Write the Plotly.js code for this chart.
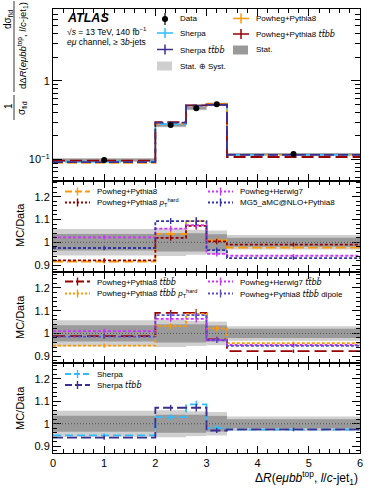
<!DOCTYPE html>
<html>
<head>
<meta charset="utf-8">
<script src="https://cdn.plot.ly/plotly-3.0.1.min.js"></script>
<style>
html, body { margin: 0; padding: 0; background: #fff; }
#plot { width: 374px; height: 490px; }
</style>
</head>
<body>
<div id="plot"></div>
<script>
// bins of dR(emu bb^top, l/c-jet1)
var edges = [0, 2, 2.6, 3, 3.4, 6];
var centres = [1, 2.3, 2.8, 3.2, 4.7];
var widths = [2, 0.6, 0.4, 0.4, 2.6];

// normalised data and relative uncertainties
var dataXs = [0.099, 0.275, 0.450, 0.505, 0.118];
var relTot = [0.058, 0.060, 0.055, 0.052, 0.032];
var relStat = [0.036, 0.040, 0.040, 0.035, 0.020];

// predictions in the top panel
var xsSherpa = [0.094, 0.283, 0.490, 0.500, 0.115];
var xsSherpaTtbb = [0.093, 0.295, 0.485, 0.495, 0.115];
var xsPP8 = [0.091, 0.285, 0.490, 0.510, 0.115];
var xsPP8Ttbb = [0.097, 0.300, 0.490, 0.500, 0.108];

// MC/Data ratios
var rPP8 = [0.916, 1.037, 1.093, 1.008, 0.977];
var rPP8Pthard = [0.921, 1.019, 1.072, 1.004, 0.990];
var rPH7 = [1.022, 1.060, 1.075, 0.949, 0.941];
var rMG5 = [0.975, 1.093, 1.093, 0.966, 0.931];
var rPP8Ttbb = [0.988, 1.090, 1.090, 0.974, 0.922];
var rPP8TtbbPthard = [0.946, 1.032, 1.086, 1.022, 0.957];
var rPH7Ttbb = [1.010, 1.064, 1.064, 0.971, 0.949];
var rPP8TtbbDipole = [0.986, 1.080, 1.080, 0.970, 0.945];
var rSherpa = [0.948, 1.029, 1.086, 0.981, 0.974];
var rSherpaTtbb = [0.938, 1.071, 1.071, 0.970, 0.975];
var mcErr = [0.010, 0.012, 0.015, 0.012, 0.008];

var FONT = 'Liberation Sans, Arial, sans-serif';
var TTBB = '<span style="font-family:DejaVu Sans"><i>tt\u0304bb\u0304</i></span>';

var col = {
  orange: '#ff9900', red: '#990000', sky: '#33bbff', indigo: '#3d2f91',
  magenta: '#cc33ff', mg5: '#3333aa', dipole: '#5b4dc4'
};

function step(v) { return v.concat([v[v.length - 1]]); }

var traces = [];

function bands(ya, centre) {
  [[relTot, '#cfcfcf'], [relStat, '#9a9a9a']].forEach(function (b) {
    traces.push({
      type: 'bar', x: centres, width: widths, yaxis: ya, xaxis: ya.replace('y', 'x'),
      base: centre.map(function (c, i) { return c * (1 - b[0][i]); }),
      y: centre.map(function (c, i) { return c * 2 * b[0][i]; }),
      marker: {color: b[1], line: {width: 0}}, hoverinfo: 'skip', showlegend: false
    });
  });
}

function model(ya, vals, color, dash) {
  var xa = ya.replace('y', 'x');
  traces.push({
    type: 'scatter', mode: 'lines', x: edges, y: step(vals), xaxis: xa, yaxis: ya,
    line: {shape: 'hv', color: color, width: 1.8, dash: dash}, showlegend: false, hoverinfo: 'skip'
  });
  traces.push({
    type: 'scatter', mode: 'markers', x: centres, y: vals, xaxis: xa, yaxis: ya,
    marker: {size: 1, color: color, opacity: 0},
    error_y: {type: 'data', array: mcErr.map(function (e, i) { return e * vals[i]; }),
              color: color, thickness: 1.4, width: 0},
    showlegend: false, hoverinfo: 'skip'
  });
}

// top panel
bands('y', dataXs);
model('y', xsPP8, col.orange, '10px,4px');
model('y', xsSherpa, col.sky, '8px,4px');
model('y', xsPP8Ttbb, col.red, '12px,5px');
model('y', xsSherpaTtbb, col.indigo, '10px,4px');
traces.push({
  type: 'scatter', mode: 'markers', x: centres, y: dataXs, xaxis: 'x', yaxis: 'y',
  marker: {size: 6, color: '#000'},
  error_y: {type: 'data', array: dataXs.map(function (d, i) { return d * relTot[i]; }),
            color: '#000', thickness: 1.2, width: 0},
  showlegend: false, hoverinfo: 'skip'
});

var ones = dataXs.map(function () { return 1; });

// ratio panel 1
bands('y2', ones);
model('y2', rPP8, col.orange, '10px,4px');
model('y2', rPP8Pthard, col.red, '3px,2px');
model('y2', rPH7, col.magenta, '3px,2px');
model('y2', rMG5, col.mg5, '3px,2px');

// ratio panel 2
bands('y3', ones);
model('y3', rPP8Ttbb, col.red, '12px,5px');
model('y3', rPP8TtbbPthard, col.orange, '3px,2px');
model('y3', rPH7Ttbb, col.magenta, '3px,2px');
model('y3', rPP8TtbbDipole, col.dipole, '3px,2px');

// ratio panel 3
bands('y4', ones);
model('y4', rSherpa, col.sky, '8px,4px');
model('y4', rSherpaTtbb, col.indigo, '10px,4px');

// pixel -> paper helpers (plot area 53..360 x 9..453)
function px(x) { return (x - 53) / 307; }
function py(y) { return (453 - y) / 444; }

var shapes = [];
var annotations = [];

function text(x, y, t, size, opts) {
  var a = {xref: 'paper', yref: 'paper', x: px(x), y: py(y), text: t, showarrow: false,
           xanchor: 'left', yanchor: 'middle', font: {family: FONT, size: size, color: '#000'}};
  for (var k in (opts || {})) a[k] = opts[k];
  annotations.push(a);
}
function seg(x0, y0, x1, y1, color, width, dash) {
  shapes.push({type: 'line', xref: 'paper', yref: 'paper', x0: px(x0), x1: px(x1), y0: py(y0), y1: py(y1),
               line: {color: color, width: width, dash: dash || 'solid'}});
}
function legCross(x0, y, label, color) {
  seg(x0, y, x0 + 16, y, color, 1.5);
  seg(x0 + 8, y - 5, x0 + 8, y + 5, color, 1.5);
  text(x0 + 21, y, label, 8);
}
function legBox(x0, y, label, color) {
  shapes.push({type: 'rect', xref: 'paper', yref: 'paper', x0: px(x0), x1: px(x0 + 15),
               y0: py(y - 4.5), y1: py(y + 4.5), fillcolor: color, line: {width: 0}});
  text(x0 + 21, y, label, 8);
}
function legDash(x0, y, label, color, dash) {
  seg(x0, y, x0 + 25, y, color, 1.8, dash);
  seg(x0 + 12.5, y - 4, x0 + 12.5, y + 4, color, 1.4);
  text(x0 + 30, y, label, 8);
}

// top legend
seg(165, 13, 165, 25, '#000', 1.2);
shapes.push({type: 'circle', xref: 'paper', yref: 'paper', x0: px(162), x1: px(168), y0: py(16), y1: py(22),
             fillcolor: '#000', line: {width: 0}});
text(178, 19, 'Data', 8);
legCross(157, 33, 'Sherpa', col.sky);
legCross(157, 49.5, 'Sherpa ' + TTBB, col.indigo);
legBox(157, 66, 'Stat. \u2295 Syst.', '#cfcfcf');
legCross(233, 18.5, 'Powheg+Pythia8', col.orange);
legCross(233, 34, 'Powheg+Pythia8 ' + TTBB, col.red);
legBox(233, 50, 'Stat.', '#9a9a9a');

text(65, 18, '<b><i>ATLAS</i></b>', 12.5);
text(65, 31, '\u221A<i>s</i> = 13 TeV, 140 fb<sup>\u22121</sup>', 8.5);
text(65, 42, '<i>e\u03BC</i> channel, \u2265 3<i>b</i>-jets', 8.5);

// ratio legends
legDash(65, 191.5, 'Powheg+Pythia8', col.orange, '7px,3px');
legDash(65, 202.5, 'Powheg+Pythia8 <i>p</i><sub>T</sub><sup>hard</sup>', col.red, '2px,2px');
legDash(208, 191.5, 'Powheg+Herwig7', col.magenta, '2px,2px');
legDash(208, 202.5, 'MG5_aMC@NLO+Pythia8', col.mg5, '2px,2px');

legDash(65, 281.5, 'Powheg+Pythia8 ' + TTBB, col.red, '8px,3px');
legDash(65, 293.5, 'Powheg+Pythia8 ' + TTBB + ' <i>p</i><sub>T</sub><sup>hard</sup>', col.orange, '2px,2px');
legDash(208, 281.5, 'Powheg+Herwig7 ' + TTBB, col.magenta, '2px,2px');
legDash(208, 293.5, 'Powheg+Pythia8 ' + TTBB + ' dipole', col.dipole, '2px,2px');

legDash(65, 374, 'Sherpa', col.sky, '6px,3px');
legDash(65, 385, 'Sherpa ' + TTBB, col.indigo, '7px,3px');

// dotted unity lines
['y2', 'y3', 'y4'].forEach(function (ya) {
  shapes.push({type: 'line', xref: ya.replace('y', 'x') + ' domain', yref: ya, x0: 0, x1: 1, y0: 1, y1: 1,
               line: {color: '#555', width: 1, dash: '1px,2px'}, layer: 'above'});
});

// y titles
var rot = {textangle: -90, xanchor: 'center', yanchor: 'middle'};
text(20, 225, 'MC/Data', 11, rot);
text(20, 317, 'MC/Data', 11, rot);
text(20, 408, 'MC/Data', 11, rot);
text(8, 106, '1', 10, rot);
seg(14, 95, 14, 120, '#000', 0.8);
text(22, 108, '\u03C3<sub>fid</sub>', 10, rot);
text(8, 20, 'd\u03C3<sub>fid</sub>', 10, rot);
seg(14, 1, 14, 92, '#000', 0.8);
text(22, 46, 'd\u0394<i>R</i>(<i>e\u03BCbb</i><sup>top</sup>, <i>l</i>/<i>c</i>-jet<sub>1</sub>)', 9.5, rot);

// x title
text(360, 478, '\u0394<i>R</i>(<i>e\u03BCbb</i><sup>top</sup>, <i>l</i>/<i>c</i>-jet<sub>1</sub>)', 12,
     {xanchor: 'right'});

var xCommon = {
  range: [0, 6], showline: true, linecolor: '#000', linewidth: 1, mirror: 'ticks',
  ticks: 'inside', ticklen: 7, tickcolor: '#000', tickwidth: 1, dtick: 1, tick0: 0,
  minor: {ticks: 'inside', dtick: 0.2, tick0: 0, ticklen: 4, tickcolor: '#000'},
  showgrid: false, zeroline: false, showticklabels: false,
  tickfont: {family: FONT, size: 11, color: '#000'}
};
function xax(anchor, labels) {
  var a = JSON.parse(JSON.stringify(xCommon));
  a.anchor = anchor;
  a.showticklabels = labels;
  if (anchor !== 'y') a.matches = 'x';
  return a;
}
var doms = [[0.6133, 1], [0.4077, 0.6133], [0.2027, 0.4077], [0, 0.2027]];
function yRatio(dom, anchor) {
  return {
    domain: dom, anchor: anchor, range: [0.87, 1.27],
    tickvals: [0.9, 1, 1.1, 1.2], ticktext: ['0.9', '1', '1.1', '1.2'],
    showline: true, linecolor: '#000', linewidth: 1, mirror: 'ticks',
    ticks: 'inside', ticklen: 8, tickcolor: '#000',
    minor: {ticks: 'inside', dtick: 0.02, tick0: 0, ticklen: 4, tickcolor: '#000'},
    showgrid: false, zeroline: false, tickfont: {family: FONT, size: 11, color: '#000'}
  };
}
var minorLog = [0.06, 0.07, 0.08, 0.09, 0.2, 0.3, 0.4, 0.5, 0.6, 0.7, 0.8, 0.9, 2, 3, 4, 5, 6, 7, 8];

var layout = {
  width: 374, height: 490,
  margin: {l: 53, r: 14, t: 9, b: 37},
  paper_bgcolor: '#fff', plot_bgcolor: '#fff',
  font: {family: FONT, color: '#000'},
  barmode: 'overlay', showlegend: false,
  xaxis: xax('y', false),
  xaxis2: xax('y2', false),
  xaxis3: xax('y3', false),
  xaxis4: xax('y4', true),
  yaxis: {
    domain: doms[0], anchor: 'x', type: 'log', range: [Math.log10(0.054), Math.log10(8.2)],
    tickmode: 'array', tickvals: [0.1, 1], ticktext: ['10<sup>\u22121</sup>', '1'],
    showline: true, linecolor: '#000', linewidth: 1, mirror: 'ticks',
    ticks: 'inside', ticklen: 9, tickcolor: '#000',
    minor: {ticks: 'inside', tickmode: 'array', tickvals: minorLog, ticklen: 5, tickcolor: '#000'},
    showgrid: false, zeroline: false, tickfont: {family: FONT, size: 11, color: '#000'}
  },
  yaxis2: yRatio(doms[1], 'x2'),
  yaxis3: yRatio(doms[2], 'x3'),
  yaxis4: yRatio(doms[3], 'x4'),
  shapes: shapes,
  annotations: annotations
};

Plotly.newPlot('plot', traces, layout, {displayModeBar: false, staticPlot: true});
</script>
</body>
</html>
